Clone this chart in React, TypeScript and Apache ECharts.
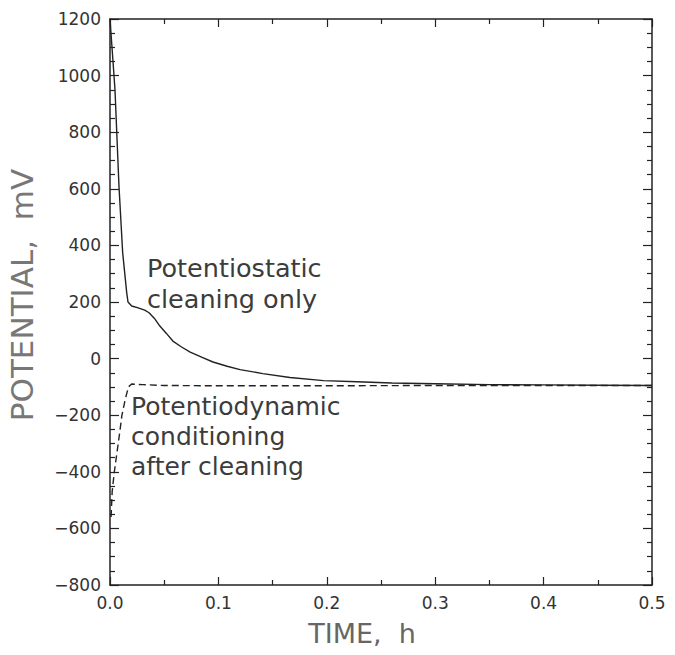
import React, { useEffect, useRef } from "react";
import * as echarts from "echarts";

const cleanTime = [0, 0.0046, 0.0083, 0.0117, 0.0154, 0.0166, 0.02, 0.026, 0.032, 0.036, 0.041, 0.046, 0.052, 0.058, 0.066, 0.074, 0.085, 0.095, 0.108, 0.12, 0.141, 0.166, 0.197, 0.228, 0.26, 0.3, 0.35, 0.4, 0.45, 0.5];
const cleanPotential = [1200, 950, 608, 374, 233, 200, 186, 179, 171, 162, 142, 115, 89, 62, 41, 23, 4, -12, -27, -39, -53, -67, -78, -82, -86, -89, -92, -93, -94, -95];

const condTime = [0.001, 0.002, 0.004, 0.0065, 0.009, 0.011, 0.014, 0.017, 0.02, 0.03, 0.05, 0.1, 0.2, 0.3, 0.4, 0.5];
const condPotential = [-560, -470, -400, -330, -260, -200, -145, -100, -90, -92, -95, -96, -96, -95, -95, -95];

const xTicks = { min: 0, max: 0.5, interval: 0.1 };
const yTicks = { min: -800, max: 1200, interval: 200 };

const labelCleaning = ["Potentiostatic", "cleaning only"];
const labelConditioning = ["Potentiodynamic", "conditioning", "after cleaning"];

export default function App() {
  const ref = useRef<HTMLDivElement>(null);
  useEffect(() => {
    if (!ref.current) return;
    const chart = echarts.init(ref.current, undefined, { renderer: "svg" });
    const axisLine = { show: true, onZero: false, lineStyle: { color: "#222", width: 1.5 } };
    const font = "DejaVu Sans";
    const baseX = {
      type: "value" as const,
      min: xTicks.min,
      max: xTicks.max,
      interval: xTicks.interval,
      axisLine,
      splitLine: { show: false },
      axisTick: { show: true, inside: true, length: 8, lineStyle: { color: "#222", width: 1.2 } },
      minorTick: { show: true, splitNumber: 2, length: 5, lineStyle: { color: "#222", width: 1.2 } },
    };
    const baseY = {
      type: "value" as const,
      min: yTicks.min,
      max: yTicks.max,
      interval: yTicks.interval,
      axisLine,
      splitLine: { show: false },
      axisTick: { show: true, inside: true, length: 9, lineStyle: { color: "#222", width: 1.2 } },
      minorTick: { show: true, splitNumber: 4, length: 5, lineStyle: { color: "#222", width: 1.2 } },
    };
    chart.setOption({
      animation: false,
      backgroundColor: "#ffffff",
      grid: { left: 110, right: 23, top: 19, bottom: 70 },
      xAxis: [
        {
          ...baseX,
          position: "bottom",
          axisLabel: {
            show: true,
            margin: 9,
            fontSize: 17,
            fontFamily: font,
            color: "#333",
            formatter: (v: number) => v.toFixed(1),
          },
        },
        { ...baseX, position: "top", axisLabel: { show: false } },
      ],
      yAxis: [
        {
          ...baseY,
          position: "left",
          axisLabel: {
            show: true,
            margin: 9,
            fontSize: 17,
            fontFamily: font,
            color: "#333",
            formatter: (v: number) => String(v).replace("-", "\u2212"),
          },
        },
        { ...baseY, position: "right", axisLabel: { show: false } },
      ],
      series: [
        {
          type: "line",
          name: "Potentiostatic cleaning only",
          data: cleanTime.map((t, i) => [t, cleanPotential[i]]),
          showSymbol: false,
          smooth: false,
          lineStyle: { color: "#222", width: 1.4, type: "solid" },
          z: 3,
        },
        {
          type: "line",
          name: "Potentiodynamic conditioning after cleaning",
          data: condTime.map((t, i) => [t, condPotential[i]]),
          showSymbol: false,
          smooth: false,
          lineStyle: { color: "#222", width: 1.4, type: [7, 4] },
          z: 3,
        },
      ],
      graphic: [
        {
          type: "text",
          x: 22,
          y: 295,
          rotation: Math.PI / 2,
          style: {
            text: "POTENTIAL,  mV",
            fontSize: 31,
            fontFamily: font,
            fill: "#777",
            align: "center",
            verticalAlign: "middle",
          },
        },
        {
          type: "text",
          x: 362,
          y: 633,
          style: {
            text: "TIME,  h",
            fontSize: 27,
            fontFamily: font,
            fill: "#666",
            align: "center",
            verticalAlign: "middle",
          },
        },
        {
          type: "text",
          x: 147,
          y: 283,
          style: {
            text: labelCleaning.join("\n"),
            fontSize: 25.5,
            lineHeight: 31,
            fontFamily: font,
            fill: "#3c3c3c",
            align: "left",
            verticalAlign: "middle",
          },
        },
        {
          type: "text",
          x: 131,
          y: 436,
          style: {
            text: labelConditioning.join("\n"),
            fontSize: 25,
            lineHeight: 30,
            fontFamily: font,
            fill: "#3c3c3c",
            align: "left",
            verticalAlign: "middle",
          },
        },
      ],
    });
    return () => chart.dispose();
  }, []);
  return (
    <div
      ref={ref}
      style={{ position: "absolute", left: 0, top: 0, width: 675, height: 655 }}
    />
  );
}
